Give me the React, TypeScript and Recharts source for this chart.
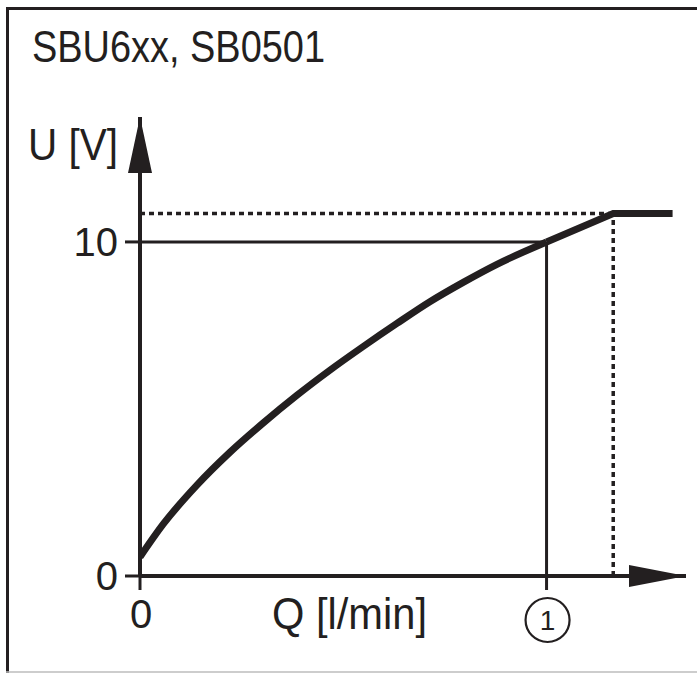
import React from "react";
import {
  LineChart,
  Line,
  XAxis,
  YAxis,
  ReferenceLine,
  ReferenceDot,
  Customized,
} from "recharts";

// curved part: flow (relative to point 1) and output voltage
const flowValues = [0, 0.057, 0.14, 0.221, 0.303, 0.386, 0.467, 0.549, 0.632, 0.713, 0.795, 0.878, 1.0];
const voltValues = [0.57, 1.55, 2.72, 3.7, 4.58, 5.41, 6.16, 6.87, 7.56, 8.21, 8.79, 9.33, 10.0];

// straight part up to saturation
const endFlowValues = [1.0, 1.164, 1.31];
const endVoltValues = [10.0, 10.85, 10.85];

const yTicks = [0, 10];
const xTicks = [0, 1];
const endFlow = 1.164;
const endVolt = 10.85;
const xMax = 1.343;
const yMax = 13.74;

const INK = "#231f20";
const FONT = "'Liberation Sans', Arial, sans-serif";

const curveData = flowValues.map((q, i) => ({ q, u: voltValues[i] }));
const endData = endFlowValues.map((q, i) => ({ q, u: endVoltValues[i] }));

const XTick = (props: any) => {
  const { x, payload } = props;
  if (payload.value === 0) {
    return (
      <text x={x + 1} y={628} textAnchor="middle" fontSize={40} fill={INK} fontFamily={FONT}>
        0
      </text>
    );
  }
  return (
    <g>
      <circle cx={x + 1} cy={620} r={22} fill="none" stroke={INK} strokeWidth={2.2} />
      <text x={x + 1} y={630} textAnchor="middle" fontSize={28} fill={INK} fontFamily={FONT}>
        1
      </text>
    </g>
  );
};

const YTick = (props: any) => {
  const { x, y, payload } = props;
  return (
    <text x={x} y={y + 14} textAnchor="end" fontSize={40} fill={INK} fontFamily={FONT}>
      {payload.value}
    </text>
  );
};

const UpArrow = (props: any) => {
  const { cx, cy } = props;
  return <polygon points={`${cx},${cy} ${cx - 12},${cy + 56} ${cx + 12},${cy + 56}`} fill={INK} />;
};

const RightArrow = (props: any) => {
  const { cx, cy } = props;
  return <polygon points={`${cx},${cy} ${cx - 57},${cy - 11} ${cx - 57},${cy + 11}`} fill={INK} />;
};

const Labels = () => (
  <g fontFamily={FONT} fill={INK}>
    {/* frame */}
    <line x1={7.5} y1={8} x2={7.5} y2={673} stroke={INK} strokeWidth={3} />
    <line x1={6} y1={8.5} x2={697} y2={8.5} stroke={INK} strokeWidth={3} />
    <line x1={6} y1={672} x2={697} y2={672} stroke="#bdbdbd" strokeWidth={1.5} />
    <text x={32} y={62} fontSize={44} textLength={293} lengthAdjust="spacingAndGlyphs">
      SBU6xx, SB0501
    </text>
    <text x={28} y={160} fontSize={44} textLength={90} lengthAdjust="spacingAndGlyphs">
      U [V]
    </text>
    <text x={272} y={629} fontSize={44} textLength={155} lengthAdjust="spacingAndGlyphs">
      Q [l/min]
    </text>
  </g>
);

export default function App() {
  return (
    <div style={{ position: "absolute", left: 0, top: 0, background: "#fff" }}>
      <LineChart
        width={697}
        height={673}
        margin={{ top: 117, right: 11, bottom: 37, left: 80 }}
      >
        <XAxis
          dataKey="q"
          type="number"
          domain={[0, xMax]}
          allowDataOverflow
          ticks={xTicks}
          interval={0}
          tickSize={14}
          height={60}
          axisLine={{ stroke: INK, strokeWidth: 4 }}
          tickLine={{ stroke: INK, strokeWidth: 3 }}
          tick={<XTick />}
        />
        <YAxis
          type="number"
          domain={[0, yMax]}
          allowDataOverflow
          ticks={yTicks}
          interval={0}
          tickSize={15}
          tickMargin={7}
          width={60}
          axisLine={{ stroke: INK, strokeWidth: 4 }}
          tickLine={{ stroke: INK, strokeWidth: 3 }}
          tick={<YTick />}
        />
        <ReferenceLine
          segment={[{ x: 0, y: endVolt }, { x: endFlow, y: endVolt }]}
          stroke={INK}
          strokeWidth={3.5}
          strokeDasharray="5 4"
        />
        <ReferenceLine
          segment={[{ x: endFlow, y: 0 }, { x: endFlow, y: endVolt }]}
          stroke={INK}
          strokeWidth={3.5}
          strokeDasharray="5 4"
        />
        <ReferenceLine segment={[{ x: 0, y: 10 }, { x: 1, y: 10 }]} stroke={INK} strokeWidth={3} />
        <ReferenceLine segment={[{ x: 1, y: 0 }, { x: 1, y: 10 }]} stroke={INK} strokeWidth={3} />
        <Line
          data={curveData}
          type="monotone"
          dataKey="u"
          stroke={INK}
          strokeWidth={7}
          dot={false}
          isAnimationActive={false}
        />
        <Line
          data={endData}
          type="linear"
          dataKey="u"
          stroke={INK}
          strokeWidth={7}
          dot={false}
          isAnimationActive={false}
        />
        <ReferenceDot x={0} y={yMax} ifOverflow="visible" shape={<UpArrow />} />
        <ReferenceDot x={xMax} y={0} ifOverflow="visible" shape={<RightArrow />} />
        <Customized component={<Labels />} />
      </LineChart>
    </div>
  );
}
